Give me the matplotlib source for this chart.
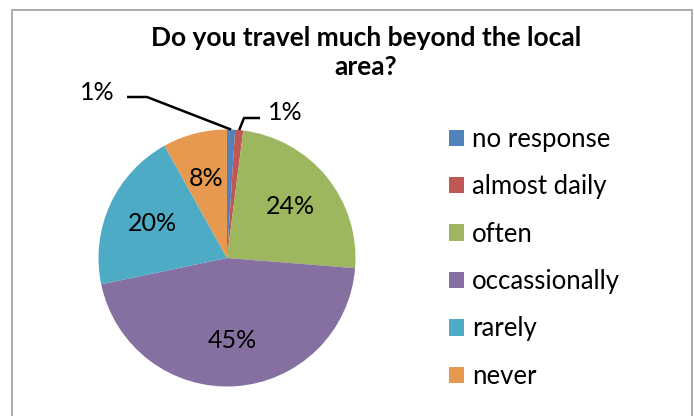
import matplotlib.pyplot as plt
import numpy as np
from matplotlib.patches import Rectangle

# data
categories = ['no response', 'almost daily', 'often', 'occassionally', 'rarely', 'never']
values = [1, 1, 24, 45, 20, 8]
colors = ['#5182BB', '#BF5754', '#9CB75E', '#8570A1', '#4DABC5', '#E6994F']
title = 'Do you travel much beyond the local\narea?'

W, H = 694, 416
plt.rcParams['font.family'] = ['Lato', 'DejaVu Sans']

fig = plt.figure(figsize=(W / 100, H / 100), dpi=100)
ax = fig.add_axes([0, 0, 1, 1])

# chart area border
fig.patches.append(Rectangle((12 / W, -0.05), (692 - 12) / W, (H - 10) / H + 0.05,
                             transform=fig.transFigure, fill=False,
                             edgecolor='#A6A6A6', lw=1.3))

cx, cy, r = 227, H - 258, 128.5
wedges, texts, autotexts = ax.pie(values, colors=colors, startangle=90, counterclock=False,
                                  center=(cx, cy), radius=r, frame=True,
                                  autopct='%1.0f%%', pctdistance=0.64,
                                  textprops=dict(fontsize=18, color='black'),
                                  wedgeprops=dict(linewidth=0))
ax.set_xlim(0, W)
ax.set_ylim(0, H)
ax.set_aspect('equal')
ax.axis('off')

# small slices: labels outside with leader lines
outside = {0: ((97, 92), (127, 97), (147, 97)),
           1: ((285, 113), (260, 118), (244, 118))}
for i, ((tx, ty), (sx, sy), (kx, ky)) in outside.items():
    w = wedges[i]
    mid = np.deg2rad((w.theta1 + w.theta2) / 2)
    ex, ey = cx + r * np.cos(mid), cy + r * np.sin(mid)
    autotexts[i].set_position((tx, H - ty))
    autotexts[i].set_ha('center')
    autotexts[i].set_va('center')
    ax.plot([sx, kx, ex], [H - sy, H - ky, ey], color='black', lw=1.8,
            solid_capstyle='butt', zorder=3)

ax.text(366, H - 38, 'Do you travel much beyond the local', ha='center', va='center',
        fontsize=19, fontweight='bold')
ax.text(366, H - 67, 'area?', ha='center', va='center', fontsize=19, fontweight='bold')

leg = ax.legend(wedges, categories, loc='upper left', bbox_to_anchor=(449 / W, 1 - 127 / H),
                bbox_transform=fig.transFigure, frameon=False, fontsize=18.5,
                handlelength=0.6, handleheight=0.6, handletextpad=0.3,
                labelspacing=0.87, borderpad=0, borderaxespad=0)

fig.savefig('out.png', dpi=100)
